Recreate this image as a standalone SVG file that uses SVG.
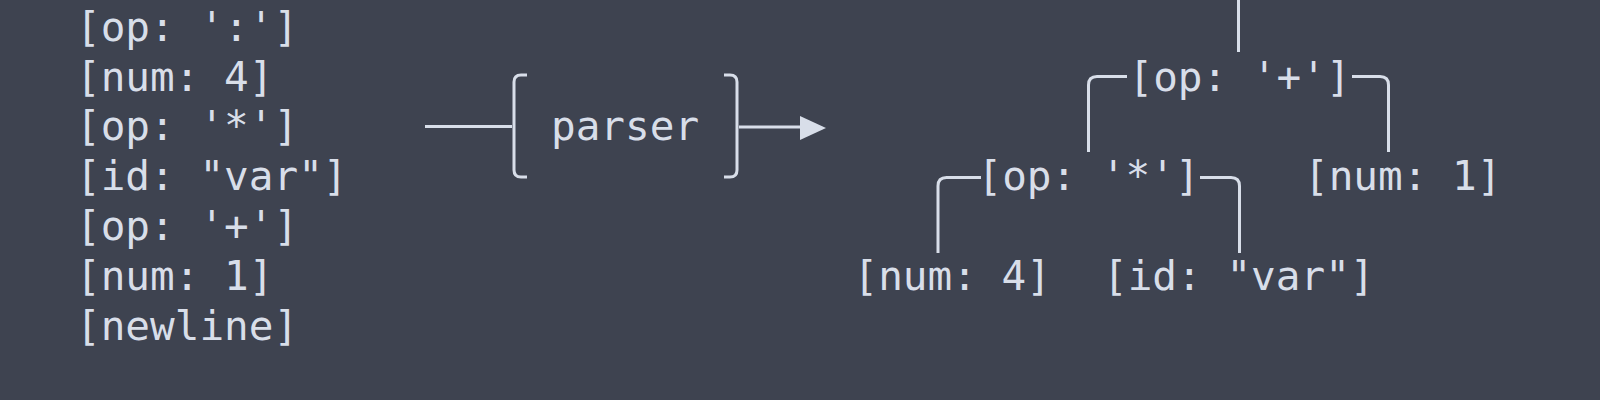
<svg xmlns="http://www.w3.org/2000/svg" width="1600" height="400" viewBox="0 0 1600 400">
<style>
.t{font-family:"DejaVu Sans Mono","Liberation Mono",monospace;font-size:41px;fill:#d8dee9}
.ln{fill:none;stroke:#d8dee9;stroke-width:3;stroke-linecap:butt}
</style>
<rect width="1600" height="400" fill="#3e4350"/>
<g id="tokens">
<text class="t" x="76" y="40.8">[op: ':']</text>
<text class="t" x="76" y="90.6">[num: 4]</text>
<text class="t" x="76" y="140.4">[op: '*']</text>
<text class="t" x="76" y="190.2">[id: "var"]</text>
<text class="t" x="76" y="240">[op: '+']</text>
<text class="t" x="76" y="289.8">[num: 1]</text>
<text class="t" x="76" y="339.6">[newline]</text>
</g>
<g id="parser">
<path class="ln" d="M527,75 L521,75 Q514,75 514,82 L514,170 Q514,177 521,177 L527,177"/>
<path class="ln" d="M724,75 L730,75 Q737,75 737,82 L737,170 Q737,177 730,177 L724,177"/>
<text class="t" x="551" y="140.4">parser</text>
</g>
<g id="n-plus"><text class="t" x="1128.5" y="90.6">[op: '+']</text></g>
<g id="n-mul"><text class="t" x="977.5" y="190.2">[op: '*']</text></g>
<g id="n-num1"><text class="t" x="1304" y="190.2">[num: 1]</text></g>
<g id="n-num4"><text class="t" x="853.5" y="289.8">[num: 4]</text></g>
<g id="n-var"><text class="t" x="1103" y="289.8">[id: "var"]</text></g>
<g id="connectors">
<path class="ln" d="M425,126.5 L512,126.5"/>
<path class="ln" d="M739,127 L806,127"/>
<path d="M800,116 L826,128 L800,140 Z" fill="#d8dee9"/>
<path class="ln" d="M1238.5,0 L1238.5,52"/>
<path class="ln" d="M1127,76.5 L1097,76.5 Q1088.5,76.5 1088.5,85 L1088.5,152"/>
<path class="ln" d="M1352,76.5 L1380,76.5 Q1388.5,76.5 1388.5,85 L1388.5,152"/>
<path class="ln" d="M981,177.5 L946.5,177.5 Q938,177.5 938,186 L938,253"/>
<path class="ln" d="M1200,177.5 L1231,177.5 Q1239.5,177.5 1239.5,186 L1239.5,253"/>
</g>
</svg>
